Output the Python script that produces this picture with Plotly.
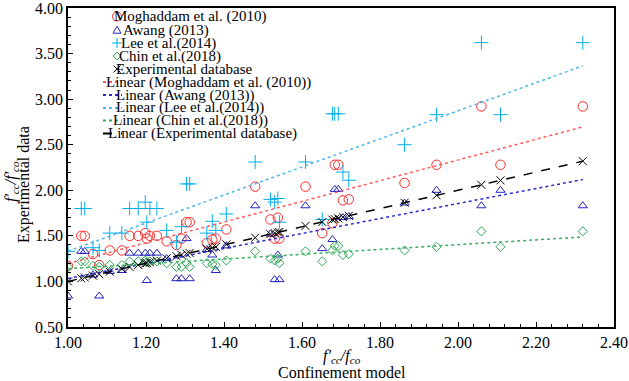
import numpy as np
import plotly.graph_objects as go

# ---------------- data ----------------
conf_model = [1.000, 1.034, 1.043, 1.064, 1.080, 1.107, 1.138, 1.158, 1.180, 1.198,
              1.202, 1.210, 1.228, 1.253, 1.278, 1.291, 1.304, 1.312, 1.356, 1.370,
              1.379, 1.406, 1.480, 1.519, 1.530, 1.538, 1.542, 1.609, 1.652, 1.678,
              1.684, 1.693, 1.705, 1.720, 1.863, 1.945, 2.060, 2.109, 2.320]

moghaddam = [1.17, 1.50, 1.50, 1.30, 1.18, 1.34, 1.34, 1.50, 1.50, 1.53,
             1.47, 1.50, 1.50, 1.44, 1.40, 1.47, 1.65, 1.65, 1.42, 1.46,
             1.47, 1.57, 2.04, 1.68, 1.47, 1.70, 1.47, 2.04, 1.53, 1.64,
             2.28, 2.28, 1.89, 1.90, 2.08, 2.28, 2.92, 2.28, 2.92]

awang = [0.84, 1.33, 1.33, 1.07, 0.84, 1.11, 1.12, 1.31, 1.31, 1.31,
         1.01, 1.31, 1.31, 1.25, 1.03, 1.03, 1.47, 1.03, 1.35, 1.29,
         1.12, 1.39, 1.83, 1.52, 1.02, 1.29, 1.02, 1.83, 1.36, 1.46,
         2.01, 2.01, 1.70, 1.71, 1.86, 2.00, 1.83, 2.00, 1.83]

lee = [1.33, 1.80, 1.80, 1.37, 1.34, 1.53, 1.53, 1.80, 1.80, 1.87,
       1.65, 1.80, 1.80, 1.56, 1.43, 1.60, 2.07, 2.07, 1.53, 1.66,
       1.56, 1.74, 2.31, 1.90, 1.87, 1.91, 1.65, 2.31, 1.68, 2.84,
       2.84, 2.84, 2.20, 2.11, 2.50, 2.83, 3.62, 2.83, 3.62]

chin = [1.16, 1.22, 1.22, 1.17, 1.16, 1.18, 1.18, 1.22, 1.22, 1.23,
        1.21, 1.22, 1.22, 1.20, 1.16, 1.16, 1.20, 1.16, 1.20, 1.19,
        1.18, 1.23, 1.33, 1.25, 1.23, 1.25, 1.20, 1.33, 1.22, 1.34,
        1.39, 1.39, 1.29, 1.30, 1.34, 1.38, 1.55, 1.38, 1.55]

experimental = [1.000, 1.034, 1.043, 1.064, 1.080, 1.107, 1.138, 1.158, 1.180, 1.198,
                1.202, 1.210, 1.228, 1.253, 1.278, 1.291, 1.304, 1.312, 1.356, 1.370,
                1.379, 1.406, 1.480, 1.519, 1.530, 1.538, 1.542, 1.609, 1.652, 1.678,
                1.684, 1.693, 1.705, 1.720, 1.863, 1.945, 2.060, 2.109, 2.320]

series_names = ["Moghaddam et al. (2010)", "Awang (2013)", "Lee et al.(2014)",
                "Chin et al.(2018)", "Experimental database"]

x_ticks = [1.00, 1.20, 1.40, 1.60, 1.80, 2.00, 2.20, 2.40]
y_ticks = [0.50, 1.00, 1.50, 2.00, 2.50, 3.00, 3.50, 4.00]

# ---------------- styling ----------------
W, H = 629, 381
L, R, T, B = 68, 15, 8, 54
PW, PH = W - L - R, H - T - B
FONT = "Liberation Serif, Times New Roman, serif"


def px2x(px):
    return (px - L) / PW


def py2y(py):
    return (H - B - py) / PH


mk_colors = ["#FF2A2A", "#2424C0", "#00AEEF", "#2EAA55", "#000000"]
ln_colors = ["#FF5A5A", "#2A2ACC", "#4FB8E8", "#3AAE62", "#000000"]
symbols = ["circle-open", "triangle-up-open", "cross-thin-open", "diamond-open", "x-thin-open"]
sizes = [9.5, 8, 10, 7, 8]
ys = [moghaddam, awang, lee, chin, experimental]

fig = go.Figure()

for name, yv, sym, col, sz in zip(series_names, ys, symbols, mk_colors, sizes):
    fig.add_trace(go.Scatter(
        x=conf_model, y=yv, mode="markers", name=name, showlegend=False,
        marker=dict(symbol=sym, size=sz, color=col, line=dict(color=col, width=1)),
    ))

# linear trendlines (least squares fits of each series)
xa = np.array(conf_model)
xfit = np.array([xa.min(), xa.max()])
for i, (name, yv) in enumerate(zip(series_names, ys)):
    k, b = np.polyfit(xa, np.array(yv), 1)
    fig.add_trace(go.Scatter(
        x=xfit, y=k * xfit + b, mode="lines", name="Linear (" + name + ")",
        showlegend=False,
        line=dict(color=ln_colors[i], width=1.5,
                  dash="dot" if i < 4 else "dash"),
    ))

# ---------------- custom legend (compact, like the reference) ----------------
shapes = []
annotations = []
leg_y = [16.5, 30, 43, 56, 69, 82, 95, 108, 120.5, 133.5]
text_x = [112, 121, 119, 117, 114, 104, 114, 114, 111, 106]
leg_texts = series_names + ["Linear (" + n + ")" for n in series_names]
for t, tx, cy in zip(leg_texts, text_x, leg_y):
    annotations.append(dict(
        text=t, x=px2x(tx), y=py2y(cy), xref="paper", yref="paper",
        xanchor="left", yanchor="middle", showarrow=False,
        font=dict(family=FONT, size=15, color="black"),
    ))

mx = 117
paths = [
    None,
    "M -4 -3.2 L 4 -3.2 L 0 3.8 Z",
    "M -5 0 L 5 0 M 0 -5 L 0 5",
    "M -4 0 L 0 4 L 4 0 L 0 -4 Z",
    "M -3.5 -3.5 L 3.5 3.5 M -3.5 3.5 L 3.5 -3.5",
]
for i in range(5):
    common = dict(xref="paper", yref="paper", xsizemode="pixel", ysizemode="pixel",
                  xanchor=px2x(mx), yanchor=py2y(leg_y[i]),
                  line=dict(color=mk_colors[i], width=1))
    if i == 0:
        shapes.append(dict(type="circle", x0=-4.5, x1=4.5, y0=-4.5, y1=4.5, **common))
    else:
        shapes.append(dict(type="path", path=paths[i], **common))

for i in range(5):
    cy = leg_y[5 + i]
    shapes.append(dict(
        type="line", xref="paper", yref="paper",
        x0=px2x(103), x1=px2x(122), y0=py2y(cy), y1=py2y(cy),
        line=dict(color=ln_colors[i], width=2, dash="dot" if i < 4 else "dash"),
    ))

# ---------------- axis titles ----------------
annotations += [
    dict(text="<i>f'</i><sub><i>cc</i></sub><i>/f'</i><sub><i>co</i></sub>",
         x=px2x(11), y=py2y(182), xref="paper", yref="paper", textangle=-90,
         showarrow=False, xanchor="center", yanchor="middle",
         font=dict(family=FONT, size=16, color="black")),
    dict(text="Experimental data",
         x=px2x(24), y=py2y(185), xref="paper", yref="paper", textangle=-90,
         showarrow=False, xanchor="center", yanchor="middle",
         font=dict(family=FONT, size=16, color="black")),
    dict(text="<i>f'</i><sub><i>cc</i></sub><i>/f</i><sub><i>co</i></sub>",
         x=px2x(342), y=py2y(356), xref="paper", yref="paper",
         showarrow=False, xanchor="center", yanchor="middle",
         font=dict(family=FONT, size=16, color="black")),
    dict(text="Confinement model",
         x=px2x(342), y=py2y(372), xref="paper", yref="paper",
         showarrow=False, xanchor="center", yanchor="middle",
         font=dict(family=FONT, size=16, color="black")),
]

fig.update_layout(
    width=W, height=H,
    margin=dict(l=L, r=R, t=T, b=B, autoexpand=False),
    paper_bgcolor="white", plot_bgcolor="white",
    showlegend=False,
    shapes=shapes, annotations=annotations,
    font=dict(family=FONT, size=16, color="black"),
)

fig.update_xaxes(
    range=[1.0, 2.4], tickvals=x_ticks, ticktext=[f"{v:.2f}" for v in x_ticks],
    ticks="inside", ticklen=5, tickwidth=1, tickcolor="black",
    minor=dict(dtick=0.04, tick0=1.0, ticks="inside", ticklen=3, tickcolor="black"),
    showline=True, linecolor="black", linewidth=1.5, mirror=True,
    showgrid=False, zeroline=False, automargin=False, ticklabeloverflow="allow",
    tickfont=dict(family=FONT, size=16, color="black"),
)
fig.update_yaxes(
    range=[0.5, 4.0], tickvals=y_ticks, ticktext=[f"{v:.2f}" for v in y_ticks],
    ticks="inside", ticklen=5, tickwidth=1, tickcolor="black",
    minor=dict(dtick=0.1, tick0=0.5, ticks="inside", ticklen=3, tickcolor="black"),
    showline=True, linecolor="black", linewidth=1.5, mirror=True,
    showgrid=False, zeroline=False, automargin=False, ticklabeloverflow="allow",
    tickfont=dict(family=FONT, size=16, color="black"),
)

fig.write_html("out.html", config={"displayModeBar": False},
               post_script="document.body.style.margin='0';document.body.style.overflow='hidden';")
